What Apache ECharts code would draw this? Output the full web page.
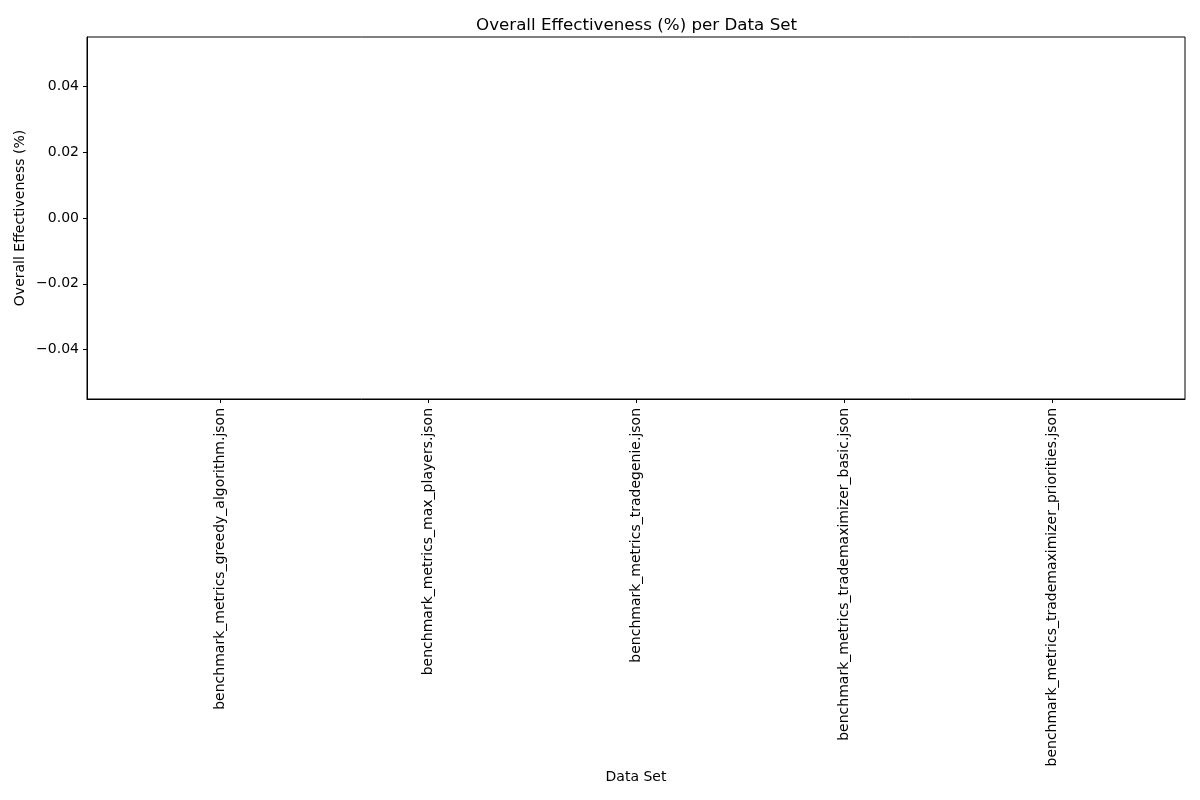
<!DOCTYPE html>
<html>
<head>
<meta charset="utf-8">
<script src="https://cdn.jsdelivr.net/npm/echarts@6/dist/echarts.min.js"></script>
<style>html,body{margin:0;padding:0;background:#fff;}#c{width:1200px;height:800px;}</style>
</head>
<body>
<div id="c"></div>
<script>
const categories = [
  "benchmark_metrics_greedy_algorithm.json",
  "benchmark_metrics_max_players.json",
  "benchmark_metrics_tradegenie.json",
  "benchmark_metrics_trademaximizer_basic.json",
  "benchmark_metrics_trademaximizer_priorities.json"
];
const effectiveness = [0, 0, 0, 0, 0];
const yTicks = [-0.04, -0.02, 0, 0.02, 0.04];
const xPositions = categories.map((_, i) => i);

const FONT = "DejaVu Sans";
const chart = echarts.init(document.getElementById('c'), null, {renderer: 'canvas'});
chart.setOption({
  animation: false,
  backgroundColor: '#ffffff',
  title: {
    text: 'Overall Effectiveness (%) per Data Set',
    left: 471, top: 12,
    textStyle: {fontFamily: FONT, fontSize: 16.7, fontWeight: 'normal', color: '#000'}
  },
  grid: {left: 87, top: 37, width: 1098, height: 362, show: true, borderColor: '#000', borderWidth: 1, backgroundColor: 'transparent'},
  xAxis: {
    type: 'value', min: -0.64, max: 4.64,
    name: 'Data Set', nameLocation: 'middle', nameGap: 371,
    nameTextStyle: {fontFamily: FONT, fontSize: 14, color: '#000'},
    splitLine: {show: false},
    axisLine: {show: true, onZero: false, lineStyle: {color: '#000', width: 1}},
    axisTick: {show: true, customValues: xPositions, length: 4, lineStyle: {color: '#000'}},
    axisLabel: {
      customValues: xPositions, rotate: 90, margin: 9,
      fontFamily: FONT, fontSize: 14, color: '#000',
      formatter: v => categories[Math.round(v)] || ''
    }
  },
  yAxis: {
    type: 'value', min: -0.055, max: 0.055,
    name: 'Overall Effectiveness (%)', nameLocation: 'middle', nameGap: 60,
    nameMoveOverlap: false,
    nameTextStyle: {fontFamily: FONT, fontSize: 14, color: '#000'},
    splitLine: {show: false},
    axisLine: {show: true, onZero: false, lineStyle: {color: '#000', width: 1}},
    axisTick: {show: true, customValues: yTicks, length: 4, lineStyle: {color: '#000'}},
    axisLabel: {
      customValues: yTicks, margin: 8,
      fontFamily: FONT, fontSize: 14, color: '#000',
      formatter: v => v.toFixed(2).replace('-', '\u2212').replace(/^\u22120\.00$/, '0.00')
    }
  },
  series: [{
    type: 'bar',
    data: xPositions.map((x, i) => [x, effectiveness[i]]),
    barWidth: 166,
    itemStyle: {color: '#1f77b4'}
  }]
});
</script>
</body>
</html>
